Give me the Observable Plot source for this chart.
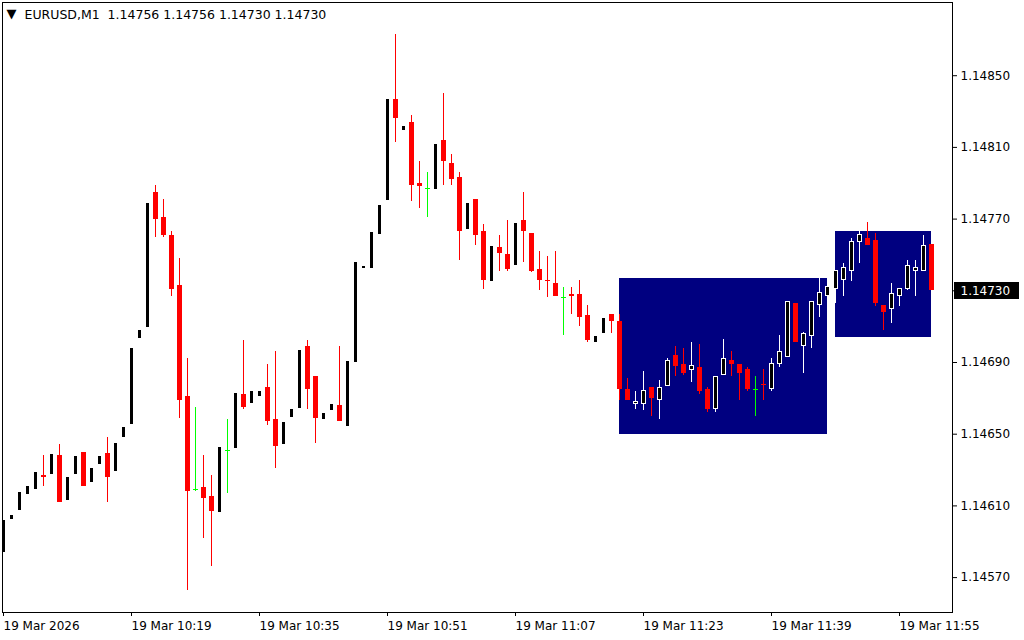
<!DOCTYPE html>
<html>
<head>
<meta charset="utf-8">
<script src="https://cdn.jsdelivr.net/npm/d3@7"></script>
<script src="https://cdn.jsdelivr.net/npm/@observablehq/plot@0.6"></script>
<style>
html, body { margin: 0; padding: 0; background: #ffffff; overflow: hidden; }
#chart svg { display: block; }
</style>
</head>
<body>
<div id="chart"></div>
<script>
// ---- data (EURUSD M1, 19 Mar 2026, 10:03 .. 11:59) ----
const symbol = "EURUSD";
const timeframe = "M1";

const opens = [
  1.14584,1.14602,1.14607,1.14616,1.14619,1.14627,1.14627,1.14638,1.14613,1.14627,
  1.14640,1.14623,1.14633,1.14639,1.14629,1.14648,1.14655,1.14703,1.14709,1.14785,
  1.14771,1.14761,1.14733,1.14671,1.14619,1.14620,1.14615,1.14606,1.14641,1.14642,
  1.14672,1.14667,1.14671,1.14676,1.14658,1.14644,1.14659,1.14664,1.14699,1.14682,
  1.14658,1.14663,1.14666,1.14654,1.14690,1.14742,1.14742,1.14761,1.14780,1.14837,
  1.14819,1.14824,1.14790,1.14787,1.14786,1.14814,1.14801,1.14793,1.14764,1.14781,
  1.14763,1.14735,1.14754,1.14750,1.14744,1.14769,1.14762,1.14742,1.14736,1.14734,
  1.14726,1.14728,1.14728,1.14716,1.14701,1.14706,1.14717,1.14713,1.14675,1.14667,
  1.14667,1.14676,1.14669,1.14677,1.14694,1.14689,1.14686,1.14687,1.14675,1.14664,
  1.14683,1.14691,1.14689,1.14686,1.14675,1.14678,1.14675,1.14689,1.14693,1.14723,
  1.14699,1.14705,1.14722,1.14727,1.14731,1.14736,1.14741,1.14757,1.14759,1.14758,
  1.14722,1.14720,1.14727,1.14731,1.14741,1.14741,1.14756
];
const highs = [
  1.14602,1.14605,1.14618,1.14621,1.14629,1.14638,1.14639,1.14644,1.14626,1.14638,
  1.14640,1.14631,1.14638,1.14648,1.14645,1.14654,1.14698,1.14708,1.14779,1.14789,
  1.14781,1.14763,1.14748,1.14692,1.14665,1.14638,1.14627,1.14643,1.14658,1.14673,
  1.14702,1.14674,1.14674,1.14689,1.14696,1.14657,1.14664,1.14697,1.14702,1.14682,
  1.14662,1.14667,1.14699,1.14691,1.14746,1.14744,1.14763,1.14778,1.14837,1.14873,
  1.14822,1.14828,1.14802,1.14796,1.14812,1.14840,1.14806,1.14796,1.14779,1.14781,
  1.14767,1.14755,1.14761,1.14769,1.14768,1.14785,1.14762,1.14752,1.14749,1.14752,
  1.14732,1.14732,1.14736,1.14722,1.14705,1.14715,1.14717,1.14717,1.14681,1.14674,
  1.14685,1.14676,1.14680,1.14692,1.14699,1.14698,1.14701,1.14700,1.14676,1.14682,
  1.14703,1.14696,1.14689,1.14687,1.14682,1.14686,1.14692,1.14705,1.14724,1.14723,
  1.14707,1.14724,1.14737,1.14734,1.14741,1.14745,1.14759,1.14764,1.14768,1.14762,
  1.14722,1.14734,1.14731,1.14747,1.14747,1.14761,1.14756
];
const lows = [
  1.14584,1.14602,1.14607,1.14616,1.14619,1.14621,1.14627,1.14612,1.14613,1.14627,
  1.14621,1.14623,1.14633,1.14612,1.14629,1.14648,1.14655,1.14703,1.14709,1.14760,
  1.14760,1.14727,1.14659,1.14563,1.14618,1.14592,1.14576,1.14606,1.14617,1.14642,
  1.14664,1.14667,1.14671,1.14655,1.14631,1.14644,1.14659,1.14664,1.14664,1.14645,
  1.14658,1.14663,1.14657,1.14654,1.14690,1.14742,1.14742,1.14761,1.14780,1.14813,
  1.14819,1.14780,1.14776,1.14771,1.14786,1.14789,1.14789,1.14747,1.14764,1.14755,
  1.14731,1.14735,1.14741,1.14741,1.14744,1.14746,1.14740,1.14730,1.14726,1.14727,
  1.14705,1.14717,1.14710,1.14701,1.14701,1.14706,1.14706,1.14669,1.14669,1.14664,
  1.14663,1.14660,1.14658,1.14677,1.14682,1.14683,1.14679,1.14672,1.14662,1.14662,
  1.14683,1.14682,1.14669,1.14674,1.14660,1.14669,1.14674,1.14687,1.14693,1.14701,
  1.14684,1.14698,1.14715,1.14725,1.14723,1.14727,1.14735,1.14745,1.14755,1.14721,
  1.14708,1.14712,1.14721,1.14730,1.14727,1.14741,1.14730
];
const closes = [
  1.14602,1.14605,1.14618,1.14621,1.14629,1.14626,1.14639,1.14612,1.14626,1.14638,
  1.14621,1.14631,1.14638,1.14626,1.14645,1.14654,1.14698,1.14708,1.14779,1.14770,
  1.14761,1.14731,1.14669,1.14618,1.14619,1.14614,1.14607,1.14643,1.14641,1.14673,
  1.14665,1.14674,1.14674,1.14657,1.14643,1.14657,1.14664,1.14697,1.14675,1.14659,
  1.14662,1.14667,1.14657,1.14691,1.14746,1.14744,1.14763,1.14778,1.14837,1.14826,
  1.14822,1.14789,1.14788,1.14787,1.14812,1.14802,1.14792,1.14763,1.14779,1.14761,
  1.14736,1.14755,1.14751,1.14742,1.14768,1.14763,1.14741,1.14736,1.14735,1.14727,
  1.14726,1.14727,1.14715,1.14702,1.14705,1.14715,1.14713,1.14675,1.14669,1.14668,
  1.14674,1.14670,1.14676,1.14691,1.14688,1.14684,1.14688,1.14674,1.14664,1.14682,
  1.14692,1.14689,1.14684,1.14675,1.14675,1.14677,1.14689,1.14696,1.14724,1.14701,
  1.14706,1.14724,1.14729,1.14732,1.14741,1.14743,1.14757,1.14761,1.14755,1.14723,
  1.14718,1.14728,1.14731,1.14744,1.14743,1.14755,1.14730
];

// x-axis ticks (bar index -> label)
const xTickIndex = [0, 16, 32, 48, 64, 80, 96, 112];
const xTickLabels = ["19 Mar 2026", "19 Mar 10:19", "19 Mar 10:35", "19 Mar 10:51",
                     "19 Mar 11:07", "19 Mar 11:23", "19 Mar 11:39", "19 Mar 11:55"];
// y-axis ticks
const yTicks = [1.14570, 1.14610, 1.14650, 1.14690, 1.14730, 1.14770, 1.14810, 1.14850];

// rectangle objects (bar index range, price range)
const boxStart  = [77, 104];
const boxEnd    = [103, 116];
const boxTop    = [1.14737, 1.14763];
const boxBottom = [1.14650, 1.14704];

// ---- build tables ----
const bars = opens.map((o, i) => ({
  i, o, h: highs[i], l: lows[i], c: closes[i],
  kind: closes[i] > o ? "up" : closes[i] < o ? "down" : "doji"
}));
const up = bars.filter(d => d.kind === "up");
const down = bars.filter(d => d.kind === "down");
const doji = bars.filter(d => d.kind === "doji");
const boxes = boxStart.map((s, j) => ({s, e: boxEnd[j], t: boxTop[j], b: boxBottom[j]}));
const last = bars[bars.length - 1];
const titleText = `${symbol},${timeframe}\u00a0\u00a0${last.o.toFixed(5)} ${last.h.toFixed(5)} ${last.l.toFixed(5)} ${last.c.toFixed(5)}`;

const W = 1024, H = 640, MR = 72;
const crisp = {shapeRendering: "crispEdges"};
const plot = Plot.plot({
  width: W, height: H,
  marginLeft: 2, marginRight: MR, marginTop: 2, marginBottom: 28,
  style: {fontFamily: "DejaVu Sans", fontSize: "12px", background: "#ffffff", color: "#000000", overflow: "visible"},
  x: {type: "linear", domain: [-0.125, 118.625]},
  y: {type: "linear", domain: [1.1455053, 1.1489084]},
  marks: [
    Plot.rect(boxes, {x1: "s", x2: "e", y1: "b", y2: "t", fill: "#000080", ...crisp}),
    // wicks
    Plot.ruleX(up, {x: "i", y1: "l", y2: "h", stroke: "#ffffff", strokeWidth: 1, ...crisp}),
    Plot.ruleX(down, {x: "i", y1: "l", y2: "h", stroke: "#ff0000", strokeWidth: 1, ...crisp}),
    Plot.ruleX(doji, {x: "i", y1: "l", y2: "h", stroke: "#00ff00", strokeWidth: 1, ...crisp}),
    // bodies
    Plot.rect(down, {x1: d => d.i - 0.3125, x2: d => d.i + 0.3125, y1: "o", y2: "c", fill: "#ff0000", ...crisp}),
    Plot.rect(up, {x1: d => d.i - 0.25, x2: d => d.i + 0.25, y1: "o", y2: "c", fill: "#000000", stroke: "#ffffff", strokeWidth: 1, ...crisp}),
    Plot.ruleY(doji, {y: "o", x1: d => d.i - 0.3125, x2: d => d.i + 0.3125, stroke: "#00ff00", strokeWidth: 1, ...crisp}),
    Plot.frame({stroke: "#000000", ...crisp}),
    Plot.axisY({anchor: "right", ticks: yTicks, tickFormat: d => d.toFixed(5), tickSize: 4, tickPadding: 4, label: null, fill: "#000000"}),
    Plot.axisX({anchor: "bottom", ticks: xTickIndex, tickFormat: d => xTickLabels[xTickIndex.indexOf(d)], tickSize: 4, tickPadding: 5, textAnchor: "start", label: null, fill: "#000000"}),
    Plot.text(["\u25BC"], {frameAnchor: "top-left", dx: 9, dy: 11, fontSize: 13, textAnchor: "middle", lineAnchor: "middle", fill: "#000000"}),
    Plot.text([titleText], {frameAnchor: "top-left", dx: 22, dy: 12, fontSize: 12.5, textAnchor: "start", lineAnchor: "middle", fill: "#000000"}),
    Plot.text([last.c], {y: d => d, frameAnchor: "right", text: d => d.toFixed(5), textAnchor: "start", dx: 8, fill: "#ffffff"})
  ]
});

// black background box behind the current price label
const yPix = plot.scale("y").apply(last.c);
const labelG = Array.from(plot.querySelectorAll("g"))
  .find(g => g.getAttribute("fill") === "#ffffff" && g.querySelector("text"));
const rect = document.createElementNS("http://www.w3.org/2000/svg", "rect");
rect.setAttribute("x", W - MR + 2);
rect.setAttribute("y", Math.round(yPix) - 8);
rect.setAttribute("width", 65);
rect.setAttribute("height", 17);
rect.setAttribute("fill", "#000000");
if (labelG) labelG.parentNode.insertBefore(rect, labelG);
else plot.appendChild(rect);

document.getElementById("chart").appendChild(plot);
</script>
</body>
</html>
